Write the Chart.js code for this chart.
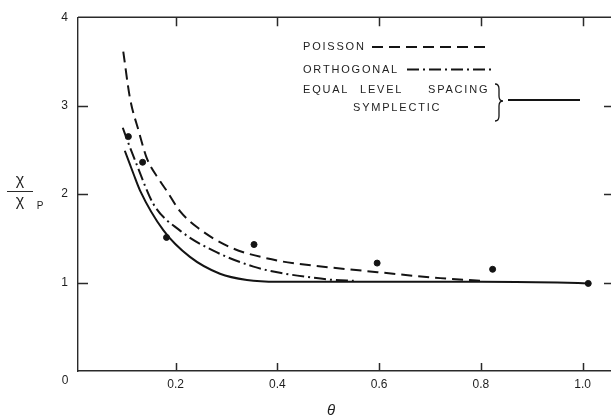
<!DOCTYPE html>
<html>
<head>
<meta charset="utf-8">
<script src="https://cdn.jsdelivr.net/npm/chart.js@4"></script>
<style>
  html, body { margin: 0; padding: 0; background: #fff; overflow: hidden; }
  #chi-chart { display: block; }
</style>
</head>
<body>
<canvas id="chi-chart" width="630" height="419"></canvas>
<script>
/**
 * Ratio chi / chi_P versus theta
 * Three model curves plus measured points, drawn with Chart.js
 */

// Poisson curve (dashed)
const poissonTheta = [0.097, 0.110, 0.127, 0.143, 0.169, 0.182, 0.208, 0.241, 0.307, 0.399, 0.444, 0.575, 0.720, 0.772, 0.800];
const poissonRatio = [3.61, 3.09, 2.72, 2.41, 2.15, 2.04, 1.81, 1.63, 1.40, 1.25, 1.21, 1.13, 1.05, 1.03, 1.02];

// Orthogonal curve (dash-dot)
const orthoTheta = [0.096, 0.110, 0.123, 0.156, 0.208, 0.274, 0.353, 0.405, 0.464, 0.509, 0.550];
const orthoRatio = [2.75, 2.53, 2.34, 1.89, 1.59, 1.36, 1.18, 1.11, 1.06, 1.03, 1.02];

// Equal level spacing / symplectic curve (solid)
const sympTheta = [0.100, 0.117, 0.130, 0.176, 0.228, 0.287, 0.340, 0.400, 0.600, 0.800, 0.950, 1.011];
const sympRatio = [2.49, 2.23, 2.04, 1.59, 1.29, 1.10, 1.03, 1.01, 1.01, 1.01, 1.00, 0.99];

// Measured points
const measTheta = [0.107, 0.135, 0.182, 0.354, 0.596, 0.823, 1.011];
const measRatio = [2.65, 2.36, 1.51, 1.43, 1.22, 1.15, 0.99];

// Axis ticks
const xTicks = [0.2, 0.4, 0.6, 0.8, 1.0];
const yTicks = [1, 2, 3, 4];

const COLORS = {
  ink: '#141414',
  axis: '#2a2a2a',
  text: '#1e1e1e'
};

const FONT = '"Liberation Sans", Arial, sans-serif';

const toPoints = (xs, ys) => xs.map((x, i) => ({ x: x, y: ys[i] }));

// Frame, inward ticks, legend and axis titles
const decorations = {
  id: 'decorations',
  afterDraw: (chart) => {
    const ctx = chart.ctx;
    const area = chart.chartArea;
    const xs = chart.scales.x;
    const ys = chart.scales.y;
    ctx.save();

    // top and right edges of the frame
    ctx.strokeStyle = COLORS.axis;
    ctx.lineWidth = 1.4;
    ctx.beginPath();
    ctx.moveTo(area.left, area.top);
    ctx.lineTo(area.right, area.top);
    ctx.lineTo(area.right, area.bottom);
    ctx.stroke();

    // inward ticks on all four sides
    ctx.lineWidth = 1.5;
    ctx.beginPath();
    xTicks.forEach(v => {
      const px = Math.round(xs.getPixelForValue(v)) + 0.5;
      ctx.moveTo(px, area.bottom);
      ctx.lineTo(px, area.bottom - 8);
      ctx.moveTo(px, area.top);
      ctx.lineTo(px, area.top + 9);
    });
    yTicks.slice(0, 3).forEach(v => {
      const py = Math.round(ys.getPixelForValue(v)) + 0.5;
      ctx.moveTo(area.left, py);
      ctx.lineTo(area.left + 10, py);
      ctx.moveTo(area.right, py);
      ctx.lineTo(area.right - 10, py);
    });
    ctx.stroke();

    // shared origin label
    ctx.fillStyle = COLORS.text;
    ctx.font = '12px ' + FONT;
    ctx.textAlign = 'center';
    ctx.textBaseline = 'middle';
    ctx.fillText('0', 65, 381);

    // x axis title
    ctx.font = 'italic 15px ' + FONT;
    ctx.fillText('θ', 331, 411);

    // y axis title as a fraction
    ctx.font = '16px ' + FONT;
    ctx.fillText('χ', 20, 181);
    ctx.fillText('χ', 20, 202);
    ctx.font = '10px ' + FONT;
    ctx.fillText('P', 40, 206);
    ctx.lineWidth = 1;
    ctx.beginPath();
    ctx.moveTo(7, 191.5);
    ctx.lineTo(33, 191.5);
    ctx.stroke();

    // legend text
    ctx.font = '11px ' + FONT;
    ctx.letterSpacing = '1.8px';
    ctx.textAlign = 'left';
    ctx.fillText('POISSON', 303, 47);
    ctx.fillText('ORTHOGONAL', 303, 70);
    ctx.fillText('EQUAL', 303, 90);
    ctx.fillText('LEVEL', 360, 90);
    ctx.fillText('SPACING', 428, 90);
    ctx.fillText('SYMPLECTIC', 353, 108);
    ctx.letterSpacing = '0px';

    // legend line samples
    ctx.strokeStyle = COLORS.ink;
    ctx.lineWidth = 2;
    ctx.setLineDash([11, 6]);
    ctx.beginPath();
    ctx.moveTo(372, 47);
    ctx.lineTo(491, 47);
    ctx.stroke();
    ctx.setLineDash([12, 4, 2, 4]);
    ctx.beginPath();
    ctx.moveTo(407, 69.5);
    ctx.lineTo(491, 69.5);
    ctx.stroke();
    ctx.setLineDash([]);
    ctx.beginPath();
    ctx.moveTo(508, 100);
    ctx.lineTo(580, 100);
    ctx.stroke();

    // brace grouping the last two entries
    ctx.lineWidth = 1.3;
    ctx.beginPath();
    ctx.moveTo(495, 84);
    ctx.quadraticCurveTo(499, 84, 499, 89);
    ctx.lineTo(499, 96);
    ctx.quadraticCurveTo(499, 101, 503, 101);
    ctx.quadraticCurveTo(499, 101, 499, 106);
    ctx.lineTo(499, 116);
    ctx.quadraticCurveTo(499, 121, 495, 121);
    ctx.stroke();

    ctx.restore();
  }
};

const canvas = document.getElementById('chi-chart');

const curve = (label, xs, ys, dash) => ({
  type: 'line',
  label: label,
  data: toPoints(xs, ys),
  borderColor: COLORS.ink,
  borderWidth: 2,
  borderDash: dash,
  pointRadius: 0,
  fill: false,
  cubicInterpolationMode: 'monotone'
});

new Chart(canvas.getContext('2d'), {
  type: 'scatter',
  data: {
    datasets: [
      curve('Poisson', poissonTheta, poissonRatio, [11, 6]),
      curve('Orthogonal', orthoTheta, orthoRatio, [12, 4, 2, 4]),
      curve('Equal level spacing / symplectic', sympTheta, sympRatio, []),
      {
        type: 'scatter',
        label: 'Measured',
        data: toPoints(measTheta, measRatio),
        backgroundColor: COLORS.ink,
        borderColor: COLORS.ink,
        pointRadius: 3,
        pointHoverRadius: 3
      }
    ]
  },
  options: {
    responsive: false,
    animation: false,
    devicePixelRatio: 1,
    layout: {
      padding: { left: 0, right: 16, top: 16, bottom: 0 }
    },
    plugins: {
      legend: { display: false },
      tooltip: { enabled: false }
    },
    scales: {
      x: {
        type: 'linear',
        min: 0.008,
        max: 1.0616,
        afterBuildTicks: (scale) => {
          scale.ticks = xTicks.map(v => ({ value: v }));
        },
        afterFit: (scale) => { scale.height = 48; },
        grid: { display: false, drawTicks: false },
        border: { display: true, color: COLORS.axis, width: 1.4 },
        ticks: {
          color: COLORS.text,
          font: { family: FONT, size: 12 },
          padding: 6,
          maxRotation: 0,
          autoSkip: false,
          callback: (v) => v.toFixed(1)
        }
      },
      y: {
        type: 'linear',
        min: 0,
        max: 4,
        afterBuildTicks: (scale) => {
          scale.ticks = yTicks.map(v => ({ value: v }));
        },
        afterFit: (scale) => { scale.width = 78; },
        grid: { display: false, drawTicks: false },
        border: { display: true, color: COLORS.axis, width: 1.4 },
        ticks: {
          color: COLORS.text,
          font: { family: FONT, size: 12 },
          padding: 10,
          callback: (v) => String(v)
        }
      }
    }
  },
  plugins: [decorations]
});
</script>
</body>
</html>
